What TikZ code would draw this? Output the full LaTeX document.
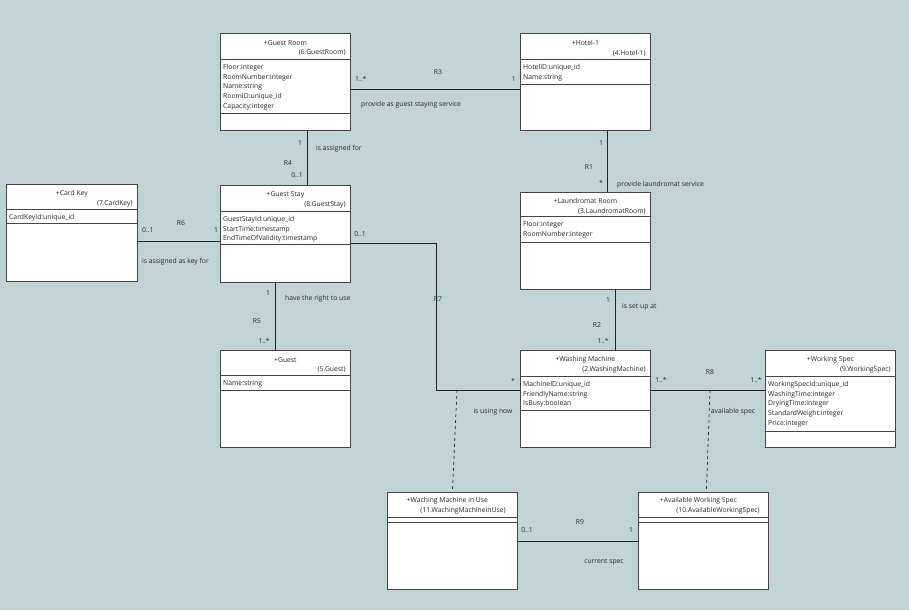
\documentclass[tikz,border=0pt]{standalone}
\usepackage{fontspec}
\setmainfont{Open Sans}
\usepackage{xcolor}
\usepackage{tikz}
\usetikzlibrary{positioning}
\definecolor{canvasbg}{RGB}{193,211,213}
\definecolor{boxline}{RGB}{70,70,70}

\begin{document}
\begin{tikzpicture}[x=1pt,y=-1pt,
    cls/.style={draw=boxline,fill=white,line width=0.8pt,minimum width=130pt,minimum height=97pt,anchor=north west,inner sep=0pt},
    cmpline/.style={draw=boxline,line width=1pt},
    ctitle/.style={font=\fontsize{6.8}{7.5}\selectfont,text=black!85,inner sep=0pt},
    cid/.style={ctitle,anchor=east},
    cattr/.style={font=\fontsize{6.8}{9.8}\selectfont,text=black!85,align=left,anchor=north west,inner sep=0pt},
    lbl/.style={font=\fontsize{6.8}{7.5}\selectfont,text=black!85,inner sep=0pt},
    assoc/.style={draw=black!85,line width=0.7pt},
    link/.style={assoc,dashed}]
        \fill[canvasbg] (0,0) rectangle (909,610);
        \useasboundingbox (0,0) rectangle (909,610);
        % classes
        \node[cls] (groom) at (220,33) {};
        \draw[cmpline] ([yshift=-26pt]groom.north west) -- ([yshift=-26pt]groom.north east);
        \draw[cmpline] ([yshift=-80pt]groom.north west) -- ([yshift=-80pt]groom.north east);
        \node[ctitle] (groomt) at ([yshift=-10pt]groom.north) {+Guest Room};
        \node[cid] (groomi) at ([xshift=-5pt,yshift=-20pt]groom.north east) {(6.GuestRoom)};
        \node[cattr] (grooma) at ([xshift=3pt,yshift=-31pt]groom.north west) {Floor:integer\\RoomNumber:integer\\Name:string\\RoomID:unique\_id\\Capacity:integer};

        \node[cls] (hotel) at (520,33) {};
        \draw[cmpline] ([yshift=-26pt]hotel.north west) -- ([yshift=-26pt]hotel.north east);
        \draw[cmpline] ([yshift=-51pt]hotel.north west) -- ([yshift=-51pt]hotel.north east);
        \node[ctitle] (hotelt) at ([yshift=-10pt]hotel.north) {+Hotel-1};
        \node[cid] (hoteli) at ([xshift=-5pt,yshift=-20pt]hotel.north east) {(4.Hotel-1)};
        \node[cattr] (hotela) at ([xshift=3pt,yshift=-31pt]hotel.north west) {HotelID:unique\_id\\Name:string};

        \node[cls,minimum width=131pt] (ckey) at (6,184) {};
        \draw[cmpline] ([yshift=-25pt]ckey.north west) -- ([yshift=-25pt]ckey.north east);
        \draw[cmpline] ([yshift=-39pt]ckey.north west) -- ([yshift=-39pt]ckey.north east);
        \node[ctitle] (ckeyt) at ([yshift=-10pt]ckey.north) {+Card Key};
        \node[cid] (ckeyi) at ([xshift=-5pt,yshift=-20pt]ckey.north east) {(7.CardKey)};
        \node[cattr] (ckeya) at ([xshift=3pt,yshift=-30pt]ckey.north west) {CardKeyId:unique\_id};

        \node[cls] (gstay) at (220,185) {};
        \draw[cmpline] ([yshift=-26pt]gstay.north west) -- ([yshift=-26pt]gstay.north east);
        \draw[cmpline] ([yshift=-59pt]gstay.north west) -- ([yshift=-59pt]gstay.north east);
        \node[ctitle] (gstayt) at ([yshift=-10pt]gstay.north) {+Guest Stay};
        \node[cid] (gstayi) at ([xshift=-5pt,yshift=-20pt]gstay.north east) {(8.GuestStay)};
        \node[cattr] (gstaya) at ([xshift=3pt,yshift=-31pt]gstay.north west) {GuestStayId:unique\_id\\StartTime:timestamp\\EndTimeOfValidity:timestamp};

        \node[cls] (lroom) at (520,192) {};
        \draw[cmpline] ([yshift=-24pt]lroom.north west) -- ([yshift=-24pt]lroom.north east);
        \draw[cmpline] ([yshift=-50pt]lroom.north west) -- ([yshift=-50pt]lroom.north east);
        \node[ctitle] (lroomt) at ([yshift=-9pt]lroom.north) {+Laundromat Room};
        \node[cid] (lroomi) at ([xshift=-5pt,yshift=-19pt]lroom.north east) {(3.LaundromatRoom)};
        \node[cattr] (lrooma) at ([xshift=3pt,yshift=-29pt]lroom.north west) {Floor:integer\\RoomNumber:integer};

        \node[cls] (guest) at (220,350) {};
        \draw[cmpline] ([yshift=-25pt]guest.north west) -- ([yshift=-25pt]guest.north east);
        \draw[cmpline] ([yshift=-40pt]guest.north west) -- ([yshift=-40pt]guest.north east);
        \node[ctitle] (guestt) at ([yshift=-10pt]guest.north) {+Guest};
        \node[cid] (guesti) at ([xshift=-5pt,yshift=-20pt]guest.north east) {(5.Guest)};
        \node[cattr] (guesta) at ([xshift=3pt,yshift=-30pt]guest.north west) {Name:string};

        \node[cls] (wm) at (520,350) {};
        \draw[cmpline] ([yshift=-26pt]wm.north west) -- ([yshift=-26pt]wm.north east);
        \draw[cmpline] ([yshift=-60pt]wm.north west) -- ([yshift=-60pt]wm.north east);
        \node[ctitle] (wmt) at ([yshift=-10pt]wm.north) {+Washing Machine};
        \node[cid] (wmi) at ([xshift=-5pt,yshift=-20pt]wm.north east) {(2.WashingMachine)};
        \node[cattr] (wma) at ([xshift=3pt,yshift=-31pt]wm.north west) {MachineID:unique\_id\\FriendlyName:string\\IsBusy:boolean};

        \node[cls] (wspec) at (765,350) {};
        \draw[cmpline] ([yshift=-26pt]wspec.north west) -- ([yshift=-26pt]wspec.north east);
        \draw[cmpline] ([yshift=-81pt]wspec.north west) -- ([yshift=-81pt]wspec.north east);
        \node[ctitle] (wspect) at ([yshift=-10pt]wspec.north) {+Working Spec};
        \node[cid] (wspeci) at ([xshift=-5pt,yshift=-20pt]wspec.north east) {(9.WorkingSpec)};
        \node[cattr] (wspeca) at ([xshift=3pt,yshift=-31pt]wspec.north west) {WorkingSpecId:unique\_id\\WashingTime:integer\\DryingTime:integer\\StandardWeight:integer\\Price:integer};

        \node[cls] (wmiu) at (387,492) {};
        \draw[cmpline] ([yshift=-25pt]wmiu.north west) -- ([yshift=-25pt]wmiu.north east);
        \draw[cmpline] ([yshift=-30pt]wmiu.north west) -- ([yshift=-30pt]wmiu.north east);
        \node[ctitle] (wmiut) at ([xshift=-5pt,yshift=-9pt]wmiu.north) {+Waching Machine in Use};
        \node[cid] (wmiui) at ([xshift=-12pt,yshift=-19pt]wmiu.north east) {(11.WachingMachineinUse)};

        \node[cls] (aws) at (638,492) {};
        \draw[cmpline] ([yshift=-25pt]aws.north west) -- ([yshift=-25pt]aws.north east);
        \draw[cmpline] ([yshift=-30pt]aws.north west) -- ([yshift=-30pt]aws.north east);
        \node[ctitle] (awst) at ([xshift=-5pt,yshift=-9pt]aws.north) {+Available Working Spec};
        \node[cid] (awsi) at ([xshift=-9pt,yshift=-19pt]aws.north east) {(10.AvailableWorkingSpec)};

        % associations
        \draw[assoc] ([yshift=-7.5pt]groom.east) -- ([yshift=-7.5pt]hotel.west);
        \node[lbl,anchor=west] (r3a) at (355,79) {1..*};
        \node[lbl] (r3n) at (438,72) {R3};
        \node[lbl,anchor=east] (r3b) at (516,79) {1};
        \node[lbl,anchor=west] (r3r) at (361,105) {provide as guest staying service};

        \draw[assoc] ([xshift=22pt]groom.south) -- ([xshift=22pt]gstay.north);
        \node[lbl] (r4a) at (300,143) {1};
        \node[lbl] (r4n) at (288,163) {R4};
        \node[lbl] (r4b) at (297,175) {0..1};
        \node[lbl,anchor=west] (r4r) at (316,149) {is assigned for};

        \draw[assoc] ([xshift=22pt]hotel.south) -- ([xshift=22pt]lroom.north);
        \node[lbl] (r1a) at (601,143) {1};
        \node[lbl] (r1n) at (589,167) {R1};
        \node[lbl] (r1b) at (601,183) {*};
        \node[lbl,anchor=west] (r1r) at (617,185) {provide laundromat service};

        \draw[assoc] ([yshift=-8.5pt]ckey.east) -- ([yshift=-8.5pt]ckey.east -| gstay.west);
        \node[lbl,anchor=west] (r6a) at (142,230) {0..1};
        \node[lbl] (r6n) at (181,223) {R6};
        \node[lbl] (r6b) at (216,230) {1};
        \node[lbl,anchor=west] (r6r) at (142,262) {is assigned as key for};

        \draw[assoc] ([xshift=-10pt]gstay.south) -- ([xshift=-10pt]guest.north);
        \node[lbl] (r5a) at (268,293) {1};
        \node[lbl,anchor=west] (r5r) at (285,299) {have the right to use};
        \node[lbl] (r5n) at (257,321) {R5};
        \node[lbl] (r5b) at (264,341) {1..*};

        \draw[assoc] ([yshift=-9.5pt]gstay.east) -- ++(86,0) |- ([yshift=8.5pt]wm.west);
        \node[lbl] (r7a) at (360,234) {0..1};
        \node[lbl] (r7n) at (438,299) {R7};
        \node[lbl] (r7b) at (513,381) {*};
        \node[lbl] (r7r) at (493,412) {is using now};

        \draw[assoc] ([xshift=30pt]lroom.south) -- ([xshift=30pt]wm.north);
        \node[lbl] (r2a) at (608,300) {1};
        \node[lbl,anchor=west] (r2r) at (622,307) {is set up at};
        \node[lbl] (r2n) at (597,325) {R2};
        \node[lbl] (r2b) at (603,341) {1..*};

        \draw[assoc] ([yshift=8.5pt]wm.east) -- ([yshift=8.5pt]wspec.west);
        \node[lbl] (r8a) at (661,380) {1..*};
        \node[lbl] (r8n) at (710,372) {R8};
        \node[lbl] (r8b) at (756,380) {1..*};
        \node[lbl] (r8r) at (733,412) {available spec};

        \draw[assoc] (wmiu.east) -- (aws.west);
        \node[lbl] (r9a) at (527,530) {0..1};
        \node[lbl] (r9n) at (580,522) {R9};
        \node[lbl] (r9b) at (631,530) {1};
        \node[lbl] (r9r) at (604,562) {current spec};

        % association classes
        \coordinate (r7c) at (457,390);
        \coordinate (r8c) at (710,390);
        \draw[link] (r7c) -- (wmiu.north);
        \draw[link] (r8c) -- ([xshift=3pt]aws.north);
      \end{tikzpicture}
\end{document}
